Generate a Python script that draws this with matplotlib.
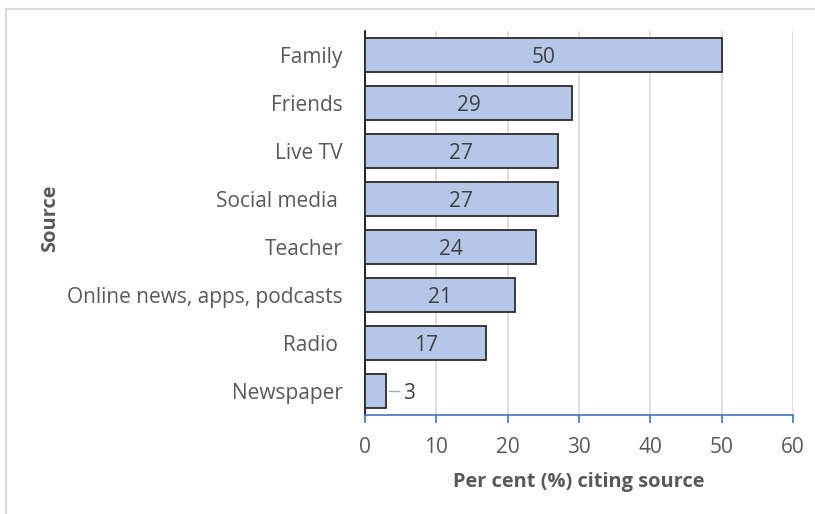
import matplotlib
matplotlib.use("Agg")
import matplotlib.pyplot as plt
from matplotlib.lines import Line2D

sources = ["Family", "Friends", "Live TV", "Social media ", "Teacher",
           "Online news, apps, podcasts", "Radio ", "Newspaper"]
percent = [50, 29, 27, 27, 24, 21, 17, 3]
x_ticks = [0, 10, 20, 30, 40, 50, 60]

text_col = "#595959"
bar_fill = "#B4C7E7"
bar_edge = "#2B2B2B"
axis_blue = "#4472C4"
grid_col = "#D9D9D9"

plt.rcParams["font.family"] = ["Open Sans", "DejaVu Sans"]

fig = plt.figure(figsize=(8.15, 5.14), dpi=100)
ax = fig.add_axes([0.4479, 0.1926, 0.973 - 0.4479, 0.9397 - 0.1926])

ypos = list(range(len(sources)))
bars = ax.barh(ypos, percent, height=0.69, color=bar_fill,
               edgecolor=bar_edge, linewidth=1.3, zorder=3)
ax.set_ylim(len(sources) - 0.5, -0.5)
ax.set_xlim(x_ticks[0], x_ticks[-1])
ax.set_xticks(x_ticks)
ax.set_yticks(ypos)
ax.set_yticklabels(sources)

# value labels: centred inside wide bars, short leader line for the small one
for y, v in zip(ypos, percent):
    if v >= 10:
        ax.text(v / 2, y, str(v), ha="center", va="center_baseline",
                fontsize=15, color="#404040", zorder=4)
    else:
        ax.plot([v + 0.4, v + 1.7], [y, y], color="#A6A6A6", lw=1, zorder=4)
        ax.text(v + 2.3, y, str(v), ha="left", va="center_baseline",
                fontsize=15, color="#404040", zorder=4)

ax.xaxis.grid(True, color=grid_col, linewidth=1.2, zorder=0)
ax.set_axisbelow(True)
for s in ["top", "right"]:
    ax.spines[s].set_visible(False)
ax.spines["left"].set_color("#000000")
ax.spines["left"].set_linewidth(1.2)
ax.spines["bottom"].set_color(axis_blue)
ax.spines["bottom"].set_linewidth(1.2)
ax.tick_params(axis="x", colors=axis_blue, direction="out", length=6,
               width=1.2, labelcolor=text_col, labelsize=15, pad=10)
ax.tick_params(axis="y", length=0, labelcolor=text_col, labelsize=15, pad=16)

ax.set_xlabel("Per cent (%) citing source", fontsize=14.4, fontweight="bold",
              color=text_col, labelpad=10)
fig.text(0.062, 0.576, "Source", rotation=90, ha="center", va="center",
         fontsize=14.4, fontweight="bold", color=text_col)

# light frame around the chart area
frame_col = "#D9D9D9"
fig.add_artist(Line2D([0.007, 1.0], [1 - 9 / 514, 1 - 9 / 514],
                      color=frame_col, linewidth=1.5, transform=fig.transFigure))
fig.add_artist(Line2D([0.007, 0.007], [0.0, 1 - 9 / 514],
                      color=frame_col, linewidth=1.5, transform=fig.transFigure))

fig.savefig("out.png", dpi=100, facecolor="white")
